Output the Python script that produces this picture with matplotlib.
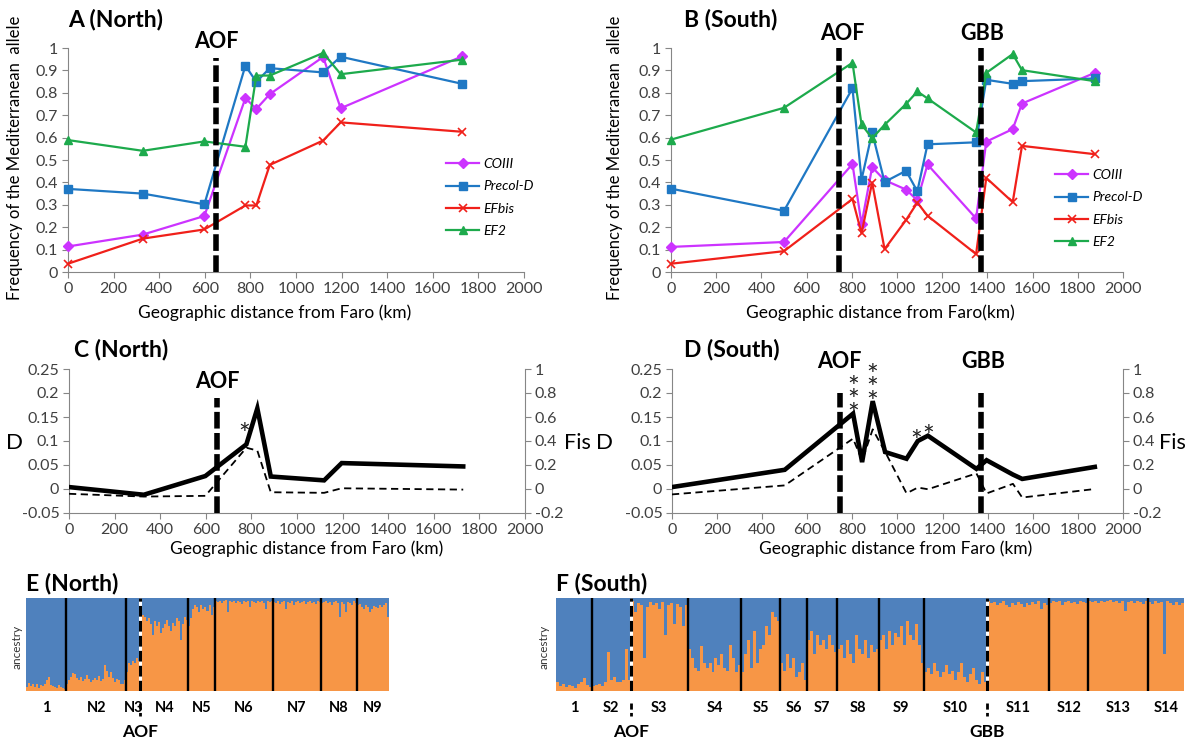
import numpy as np
import matplotlib
matplotlib.use('Agg')
from matplotlib import pyplot as plt
from matplotlib import transforms

plt.rcParams['font.family'] = ['Lato', 'DejaVu Sans']

# ---- data ----
north_km = [0, 328, 598, 778, 826, 885, 1119, 1196, 1729]
south_km = [0, 500, 803, 843, 890, 945, 1040, 1090, 1135, 1350, 1395, 1512, 1553, 1875]

coiii_n = [0.114, 0.167, 0.25, 0.776, 0.728, 0.794, 0.96, 0.731, 0.963]
precol_n = [0.371, 0.35, 0.302, 0.921, 0.849, 0.91, 0.891, 0.961, 0.84]
efbis_n = [0.037, 0.149, 0.19, 0.297, 0.297, 0.478, 0.587, 0.668, 0.626]
ef2_n = [0.589, 0.541, 0.583, 0.559, 0.877, 0.877, 0.978, 0.883, 0.948]

coiii_s = [0.112, 0.134, 0.482, 0.214, 0.468, 0.41, 0.368, 0.32, 0.48, 0.239, 0.582, 0.638, 0.752, 0.889]
precol_s = [0.372, 0.273, 0.82, 0.412, 0.623, 0.402, 0.452, 0.36, 0.57, 0.579, 0.858, 0.84, 0.852, 0.864]
efbis_s = [0.037, 0.093, 0.326, 0.173, 0.399, 0.102, 0.232, 0.31, 0.251, 0.08, 0.42, 0.312, 0.563, 0.526]
ef2_s = [0.591, 0.733, 0.934, 0.659, 0.597, 0.657, 0.75, 0.806, 0.775, 0.623, 0.889, 0.973, 0.901, 0.852]

d_north = [0.004, -0.012, 0.027, 0.093, 0.168, 0.026, 0.018, 0.054, 0.047]
fis_north = [-0.04, -0.063, -0.057, 0.344, 0.32, -0.027, -0.032, 0.006, -0.005]
d_south = [0.004, 0.04, 0.157, 0.056, 0.183, 0.077, 0.063, 0.1, 0.111, 0.042, 0.06, 0.03, 0.021, 0.046]
fis_south = [-0.045, 0.03, 0.42, 0.237, 0.497, 0.31, -0.036, 0.012, -0.002, 0.13, -0.037, 0.043, -0.071, 0.0]

aof_north = 650
aof_south = 745
gbb_south = 1370

# significance marks (x km, D level, label)
stars_north = [(769, 0.127, '*')]
stars_south = [(802, 0.198, '*\n*\n*'), (887, 0.223, '*\n*\n*'), (1084, 0.112, '*'), (1137, 0.124, '*')]

# ancestry (Mediterranean / orange part) per individual
north_labels = ['1', 'N2', 'N3', 'N4', 'N5', 'N6', 'N7', 'N8', 'N9']
north_anc = [
    [0.04, 0.09, 0.05, 0.08, 0.04, 0.07, 0.03, 0.06, 0.05, 0.08, 0.12, 0.15, 0.06, 0.05, 0.04, 0.03, 0.06, 0.04, 0.03, 0.02],
    [0.08, 0.12, 0.15, 0.19, 0.18, 0.14, 0.12, 0.15, 0.11, 0.13, 0.17, 0.13, 0.1, 0.12, 0.14,
     0.12, 0.16, 0.11, 0.13, 0.28, 0.22, 0.15, 0.2, 0.14, 0.1, 0.13, 0.12, 0.08, 0.07, 0.12],
    [0.2, 0.3, 0.28, 0.32, 0.3, 0.35, 0.32],
    [0.78, 0.82, 0.8, 0.75, 0.78, 0.72, 0.6, 0.75, 0.7, 0.74, 0.62, 0.68, 0.72, 0.76, 0.7, 0.65,
     0.73, 0.7, 0.78, 0.75, 0.55, 0.72, 0.8, 0.76],
    [0.7, 0.78, 0.88, 0.92, 0.9, 0.85, 0.93, 0.88, 0.9, 0.86, 0.92, 0.82, 0.9],
    [0.97, 0.96, 0.97, 0.95, 0.97, 0.98, 0.85, 0.97, 0.96, 0.97, 0.95, 0.97, 0.96, 0.94, 0.97,
     0.96, 0.97, 0.9, 0.97, 0.96, 0.95, 0.97, 0.96, 0.97, 0.95, 0.88, 0.97, 0.96, 0.97],
    [0.96, 0.95, 0.97, 0.94, 0.96, 0.97, 0.88, 0.96, 0.95, 0.97, 0.93, 0.96, 0.97, 0.95, 0.96,
     0.97, 0.94, 0.96, 0.97, 0.95, 0.96, 0.94, 0.97, 0.96],
    [0.95, 0.96, 0.97, 0.95, 0.96, 0.93, 0.96, 0.97, 0.95, 0.8, 0.96, 0.94, 0.85, 0.96, 0.95, 0.93, 0.97, 0.95],
    [0.92, 0.94, 0.9, 0.88, 0.92, 0.9, 0.85, 0.88, 0.91, 0.9, 0.89, 0.93, 0.9, 0.92, 0.95, 0.8],
]
south_labels = ['1', 'S2', 'S3', 'S4', 'S5', 'S6', 'S7', 'S8', 'S9', 'S10', 'S11', 'S12', 'S13', 'S14']
south_anc = [
    [0.1, 0.05, 0.08, 0.04, 0.06, 0.05, 0.03, 0.07, 0.1, 0.14, 0.06, 0.04],
    [0.05, 0.06, 0.08, 0.05, 0.1, 0.42, 0.12, 0.15, 0.1, 0.1, 0.12, 0.45, 0.12],
    [0.97, 0.85, 0.95, 0.93, 0.35, 0.9, 0.96, 0.92, 0.95, 0.88, 0.96, 0.6, 0.93, 0.95, 0.72, 0.94, 0.9, 0.7, 0.92],
    [0.45, 0.35, 0.25, 0.22, 0.48, 0.3, 0.25, 0.3, 0.2, 0.35, 0.28, 0.4, 0.25, 0.22, 0.5, 0.35, 0.2, 0.28],
    [0.2, 0.4, 0.55, 0.25, 0.65, 0.3, 0.45, 0.5, 0.7, 0.6, 0.85, 0.8, 0.75],
    [0.3, 0.22, 0.4, 0.25, 0.35, 0.15, 0.2, 0.3, 0.12],
    [0.55, 0.65, 0.4, 0.6, 0.5, 0.55, 0.45, 0.6, 0.5, 0.42],
    [0.45, 0.5, 0.35, 0.55, 0.4, 0.3, 0.6, 0.45, 0.4, 0.55, 0.35, 0.5, 0.42, 0.45],
    [0.55, 0.6, 0.45, 0.65, 0.5, 0.62, 0.58, 0.7, 0.5, 0.75, 0.6, 0.55, 0.72, 0.5, 0.3],
    [0.2, 0.25, 0.18, 0.3, 0.22, 0.15, 0.2, 0.28, 0.18, 0.22, 0.12, 0.2, 0.3, 0.15, 0.1, 0.18, 0.25, 0.12, 0.08, 0.2, 0.1],
    [0.97, 0.95, 0.96, 0.93, 0.95, 0.97, 0.92, 0.9, 0.95, 0.93, 0.96, 0.94, 0.9, 0.95, 0.92, 0.96, 0.94, 0.97, 0.88, 0.95, 0.93],
    [0.95, 0.97, 0.96, 0.97, 0.93, 0.96, 0.97, 0.95, 0.96, 0.94, 0.97, 0.96, 0.95],
    [0.97, 0.96, 0.97, 0.95, 0.97, 0.96, 0.97, 0.98, 0.96, 0.97, 0.95, 0.97, 0.86, 0.96, 0.97, 0.95, 0.97, 0.96, 0.94, 0.97],
    [0.96, 0.94, 0.97, 0.95, 0.96, 0.4, 0.97, 0.95, 0.93, 0.96, 0.92, 0.95],
]
north_breaks = {2: 'AOF'}           # break after population index
south_breaks = {1: 'AOF', 9: 'GBB'}

# ---- layout ----
W, H = 1192, 745
fig = plt.figure(figsize=(W / 100, H / 100), dpi=100)


def px_rect(l, t, r, b):
    return [l / W, 1 - b / H, (r - l) / W, (b - t) / H]


def ftext(x, y, s, **kw):
    kw.setdefault('ha', 'center')
    kw.setdefault('va', 'center')
    fig.text(x / W, 1 - y / H, s, **kw)


GRAY = '#868686'
TICKC = '#404040'
COL = {'COIII': '#CC33FF', 'Precol-D': '#1F78C4', 'EFbis': '#F0201A', 'EF2': '#1DAA4C'}
BLUE = '#4F81BD'
ORANGE = '#F79646'
bdash = (0, (3, 0.8))


def base_style(ax):
    ax.spines['top'].set_visible(False)
    ax.spines['right'].set_visible(False)
    for s in ('left', 'bottom'):
        ax.spines[s].set_color(GRAY)
    ax.tick_params(direction='out', length=4, color=GRAY, labelsize=11.5,
                   labelcolor=TICKC, pad=3)
    ax.set_xlim(0, 2000)
    ax.set_xticks(range(0, 2001, 200))


def freq_panel(ax, km, series, legend_xy):
    base_style(ax)
    ax.set_ylim(0, 1)
    yt = [round(v, 1) for v in np.arange(0, 1.01, 0.1)]
    ax.set_yticks(yt)
    ax.set_yticklabels(['%g' % v for v in yt])
    styles = {'COIII': dict(marker='D', ms=5), 'Precol-D': dict(marker='s', ms=6),
              'EFbis': dict(marker='x', ms=6, mew=1.2), 'EF2': dict(marker='^', ms=6)}
    for name, vals in series:
        ax.plot(km, vals, color=COL[name], lw=1.6, label=name, clip_on=False, zorder=3,
                **styles[name])
    ax.legend(loc='upper left', bbox_to_anchor=(legend_xy[0] / W, 1 - legend_xy[1] / H),
              bbox_transform=fig.transFigure, frameon=False, borderpad=0, borderaxespad=0,
              handlelength=2.4, handletextpad=0.3, labelspacing=0.75,
              prop={'style': 'italic', 'size': 10})


# ---- A ----
axA = fig.add_axes(px_rect(68, 48, 524, 272))
freq_panel(axA, north_km, [('COIII', coiii_n), ('Precol-D', precol_n),
                           ('EFbis', efbis_n), ('EF2', ef2_n)], (446, 158))
axA.plot([aof_north, aof_north], [0, 0.955], color='k', lw=4, ls=bdash, zorder=4,
         clip_on=False, dash_capstyle='butt')

# ---- B ----
axB = fig.add_axes(px_rect(671, 48, 1123, 272))
freq_panel(axB, south_km, [('COIII', coiii_s), ('Precol-D', precol_s),
                           ('EFbis', efbis_s), ('EF2', ef2_s)], (1055, 169))
for xv in (aof_south, gbb_south):
    axB.plot([xv, xv], [0, 1.0], color='k', lw=4, ls=bdash, zorder=4,
             clip_on=False, dash_capstyle='butt')


# ---- C / D ----
def d_panel(ax, km, dvals, fvals, stars):
    base_style(ax)
    ax.set_ylim(-0.05, 0.25)
    yt = [-0.05, 0, 0.05, 0.1, 0.15, 0.2, 0.25]
    ax.set_yticks(yt)
    ax.set_yticklabels(['%g' % v for v in yt])
    ax.plot(km, dvals, color='k', lw=3.3, solid_joinstyle='miter', zorder=3)
    ax2 = ax.twinx()
    ax2.set_ylim(-0.2, 1)
    yt2 = [-0.2, 0, 0.2, 0.4, 0.6, 0.8, 1]
    ax2.set_yticks(yt2)
    ax2.set_yticklabels(['%g' % v for v in yt2])
    for s in ('top', 'left', 'bottom'):
        ax2.spines[s].set_visible(False)
    ax2.spines['right'].set_color(GRAY)
    ax2.tick_params(direction='out', length=4, color=GRAY, labelsize=11.5,
                    labelcolor=TICKC, pad=3)
    ax2.plot(km, fvals, color='k', lw=1.3, ls=(0, (4, 2.5)), zorder=3)
    for xv, yv, s in stars:
        ax.text(xv, yv - 0.017, s, ha='center', va='center', fontsize=20,
                linespacing=0.4, color='#222222')
    return ax2


axC = fig.add_axes(px_rect(69, 369, 525, 513))
d_panel(axC, north_km, d_north, fis_north, stars_north)
axC.plot([aof_north, aof_north], [-0.05, 0.19], color='k', lw=4, ls=bdash, zorder=4,
         clip_on=False, dash_capstyle='butt')

axD = fig.add_axes(px_rect(672, 369, 1123, 513))
d_panel(axD, south_km, d_south, fis_south, stars_south)
for xv in (aof_south, gbb_south):
    axD.plot([xv, xv], [-0.05, 0.2], color='k', lw=4, ls=bdash, zorder=4,
             clip_on=False, dash_capstyle='butt')


# ---- E / F structure plots ----
def structure(ax, pops, labels, breaks):
    vals = np.concatenate([np.array(p) for p in pops])
    n = len(vals)
    edges = np.arange(n + 1)
    ax.stairs(np.ones(n), edges, fill=True, color=BLUE, lw=0)
    ax.stairs(vals, edges, fill=True, color=ORANGE, lw=0)
    ax.set_xlim(0, n)
    ax.set_ylim(0, 1)
    ax.axis('off')
    bounds = np.cumsum([len(p) for p in pops])
    tr = transforms.blended_transform_factory(ax.transData, ax.transAxes)
    for i, b in enumerate(bounds[:-1]):
        if i in breaks:
            ax.plot([b, b], [0, 1], color='white', lw=2.2, solid_capstyle='butt')
            ax.plot([b, b], [0, 1], color='k', lw=2.2, ls=(0, (3.5, 1.4)), dash_capstyle='butt')
            ax.plot([b, b], [-0.13, -0.27], transform=tr, color='k', lw=2.0,
                    ls=(0, (2.2, 1.2)), clip_on=False)
            ax.text(b, -0.44, breaks[i], transform=tr, ha='center', va='center',
                    fontsize=12.5, fontweight='bold')
        else:
            ax.plot([b, b], [0, 1], color='k', lw=1.7)
    starts = np.concatenate([[0], bounds[:-1]])
    for s, e, lab in zip(starts, bounds, labels):
        ax.text((s + e) / 2, -0.18, lab, transform=tr, ha='center', va='center',
                fontsize=10.5, fontweight='bold')


axE = fig.add_axes(px_rect(26, 598, 389, 691))
structure(axE, north_anc, north_labels, north_breaks)
axF = fig.add_axes(px_rect(556, 598, 1184, 691))
structure(axF, south_anc, south_labels, south_breaks)

# ---- texts ----
ttl = dict(ha='left', fontsize=16.5, fontweight='bold')
ftext(68, 19, 'A (North)', **ttl)
ftext(684, 20, 'B (South)', **ttl)
ftext(74, 350, 'C (North)', **ttl)
ftext(684, 350, 'D (South)', **ttl)
ftext(26, 584, 'E (North)', **ttl)
ftext(556, 584, 'F (South)', **ttl)

big = dict(fontsize=15.5, fontweight='bold')
ftext(216, 41, 'AOF', **big)
ftext(842, 34, 'AOF', **big)
ftext(982, 34, 'GBB', **big)
ftext(217, 381, 'AOF', **big)
ftext(839, 362, 'AOF', **big)
ftext(983, 362, 'GBB', **big)

ylab = dict(rotation=90, fontsize=12)
ftext(15, 158, 'Frequency of the Mediterranean  allele', **ylab)
ftext(615, 158, 'Frequency of the Mediterranean  allele', **ylab)
xl = dict(fontsize=12.5)
ftext(275, 313, 'Geographic distance from Faro (km)', **xl)
ftext(880, 313, 'Geographic distance from Faro(km)', **xl)
ftext(307, 549, 'Geographic distance from Faro (km)', **xl)
ftext(896, 549, 'Geographic distance from Faro (km)', **xl)

ftext(15, 443, 'D', fontsize=16)
ftext(577, 443, 'Fis', fontsize=15.5)
ftext(605, 443, 'D', fontsize=16)
ftext(1172, 443, 'Fis', fontsize=15.5)

ftext(17, 647, 'ancestry', rotation=90, fontsize=8.5, color='#333333')
ftext(544, 647, 'ancestry', rotation=90, fontsize=8.5, color='#333333')

fig.savefig('out.png', dpi=100)
